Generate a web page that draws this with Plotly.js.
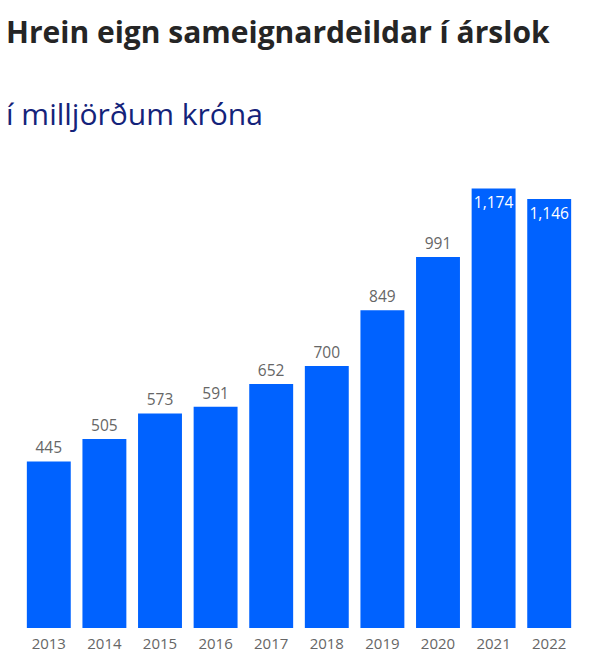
<!DOCTYPE html>
<html>
<head>
<meta charset="utf-8">
<script src="https://cdn.plot.ly/plotly-3.0.1.min.js"></script>
<style>
  body{margin:0;background:#fff;}
  #chart{width:600px;height:670px;}
</style>
</head>
<body>
<div id="chart"></div>
<script>
// Hrein eign sameignardeildar - gögn lesin af mynd
const years = ['2013','2014','2015','2016','2017','2018','2019','2020','2021','2022'];
const netAssets = [445, 505, 573, 591, 652, 700, 849, 991, 1174, 1146];
const labelInside = [false,false,false,false,false,false,false,false,true,true];

const trace = {
  type:'bar',
  x: years,
  y: netAssets,
  marker:{color:'#0062ff'},
  texttemplate:'%{y:,}',
  textposition: labelInside.map(v=>v ? 'inside' : 'outside'),
  insidetextanchor:'end',
  constraintext:'none',
  textangle:0,
  textfont:{
    family:'Open Sans, sans-serif',
    size:15.5,
    color: labelInside.map(v=>v ? '#ffffff' : '#666666')
  },
  cliponaxis:false,
  hoverinfo:'x+y'
};

const layout = {
  width:600, height:670,
  margin:{t:160, r:23, l:21, b:42},
  paper_bgcolor:'#fff',
  plot_bgcolor:'#fff',
  bargap:0.21,
  showlegend:false,
  xaxis:{
    type:'category',
    showgrid:false, zeroline:false, showline:false,
    ticks:'outside', ticklen:2, tickcolor:'rgba(0,0,0,0)',
    tickfont:{family:'Open Sans, sans-serif', size:15, color:'#666666'}
  },
  yaxis:{
    range:[0,1250],
    visible:false
  },
  annotations:[
    {
      text:'<b>Hrein eign sameignardeildar í árslok</b>',
      xref:'paper', yref:'paper', x:-0.03, y:1.0, xanchor:'left', yanchor:'bottom',
      yshift:106,
      showarrow:false,
      font:{family:'Open Sans, sans-serif', size:30, color:'#252525'}
    },
    {
      text:'í milljörðum króna',
      xref:'paper', yref:'paper', x:-0.03, y:1.0, xanchor:'left', yanchor:'bottom',
      yshift:24,
      showarrow:false,
      font:{family:'Open Sans, sans-serif', size:30, color:'#14237a'}
    }
  ]
};

Plotly.newPlot('chart', [trace], layout, {displayModeBar:false});
</script>
</body>
</html>
